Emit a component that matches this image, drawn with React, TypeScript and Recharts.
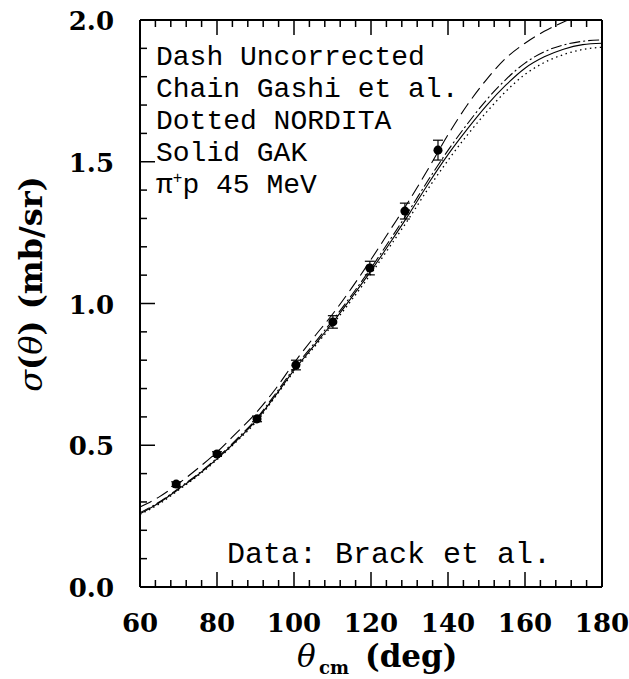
import { ComposedChart, ErrorBar, Line, Scatter, XAxis, YAxis } from 'recharts';

// model curves, every 5 deg
const theta = [60, 65, 70, 75, 80, 85, 90, 95, 100, 105, 110, 115, 120, 125, 130, 135, 140, 145, 150, 155, 160, 165, 170, 175, 180];
const uncorrected = [0.282, 0.318, 0.365, 0.418, 0.476, 0.543, 0.612, 0.695, 0.79, 0.878, 0.962, 1.055, 1.155, 1.26, 1.365, 1.478, 1.595, 1.7, 1.79, 1.865, 1.918, 1.96, 1.993, 2.018, 2.035];
const gashi = [0.262, 0.3, 0.348, 0.398, 0.455, 0.52, 0.59, 0.678, 0.772, 0.855, 0.94, 1.03, 1.125, 1.226, 1.33, 1.438, 1.54, 1.633, 1.718, 1.79, 1.848, 1.888, 1.912, 1.925, 1.93];
const nordita = [0.256, 0.293, 0.342, 0.392, 0.449, 0.512, 0.58, 0.668, 0.76, 0.842, 0.925, 1.013, 1.105, 1.203, 1.303, 1.408, 1.505, 1.594, 1.675, 1.748, 1.808, 1.85, 1.878, 1.896, 1.904];
const gak = [0.258, 0.297, 0.345, 0.395, 0.452, 0.515, 0.585, 0.672, 0.765, 0.848, 0.932, 1.022, 1.115, 1.215, 1.318, 1.425, 1.525, 1.615, 1.698, 1.77, 1.83, 1.87, 1.897, 1.913, 1.918];

// Brack et al. data points
const dataTheta = [69.4, 80.0, 90.4, 100.5, 110.1, 119.7, 128.8, 137.4];
const dataSigma = [0.363, 0.469, 0.593, 0.783, 0.935, 1.125, 1.326, 1.541];
const dataErr = [0.008, 0.008, 0.01, 0.017, 0.022, 0.024, 0.028, 0.035];

const xTicks = [60, 64, 68, 72, 76, 80, 84, 88, 92, 96, 100, 104, 108, 112, 116, 120, 124, 128, 132, 136, 140, 144, 148, 152, 156, 160, 164, 168, 172, 176, 180];
const yTicks = [0, 0.1, 0.2, 0.3, 0.4, 0.5, 0.6, 0.7, 0.8, 0.9, 1.0, 1.1, 1.2, 1.3, 1.4, 1.5, 1.6, 1.7, 1.8, 1.9, 2.0];

const legendLines = ['Dash Uncorrected', 'Chain Gashi et al.', 'Dotted NORDITA', 'Solid GAK'];

const curveData = theta.map((t, i) => ({
  theta: t,
  uncorrected: uncorrected[i],
  gashi: gashi[i],
  nordita: nordita[i],
  gak: gak[i]
}));
const points = dataTheta.map((t, i) => ({ theta: t, sigma: dataSigma[i], err: dataErr[i] }));

const serif = '"DejaVu Serif", serif';
const mono = '"Liberation Mono", monospace';
const frame = { stroke: '#000', strokeWidth: 2 };

const xMajor = (v: number) => v % 20 === 0;
const yMajor = (v: number) => Math.abs(v * 2 - Math.round(v * 2)) < 1e-9;

function BottomTick({ x, y, payload }: any) {
  const major = xMajor(payload.value);
  return (
    <g>
      <line x1={x} y1={y} x2={x} y2={y - (major ? 15 : 7)} stroke="#000" strokeWidth={1.5} />
      {major && (
        <text x={x} y={y + 45} textAnchor="middle" fontFamily={serif} fontWeight="bold" fontSize={26} fill="#000">
          {payload.value}
        </text>
      )}
    </g>
  );
}

function TopTick({ x, y, payload }: any) {
  const major = xMajor(payload.value);
  return <line x1={x} y1={y} x2={x} y2={y + (major ? 15 : 7)} stroke="#000" strokeWidth={1.5} />;
}

function LeftTick({ x, y, payload }: any) {
  const major = yMajor(payload.value);
  return (
    <g>
      <line x1={x} y1={y} x2={x + (major ? 15 : 7)} y2={y} stroke="#000" strokeWidth={1.5} />
      {major && (
        <text x={x - 26} y={y + 10} textAnchor="end" fontFamily={serif} fontWeight="bold" fontSize={26} fill="#000">
          {payload.value.toFixed(1)}
        </text>
      )}
    </g>
  );
}

function RightTick({ x, y, payload }: any) {
  const major = yMajor(payload.value);
  return <line x1={x} y1={y} x2={x - (major ? 15 : 7)} y2={y} stroke="#000" strokeWidth={1.5} />;
}

export default function App() {
  return (
    <div style={{ position: 'absolute', left: 0, top: 0, width: 629, height: 679, background: '#fff' }}>
      <ComposedChart width={629} height={679} data={curveData} margin={{ top: 0, right: 0, bottom: 0, left: 0 }}>
        <XAxis xAxisId="b" dataKey="theta" type="number" domain={[60, 180]} ticks={xTicks} interval={0} height={92}
          axisLine={frame} tickLine={false} tickSize={0} tickMargin={0} tick={<BottomTick />} />
        <XAxis xAxisId="t" dataKey="theta" type="number" orientation="top" domain={[60, 180]} ticks={xTicks} interval={0} height={20}
          axisLine={frame} tickLine={false} tickSize={0} tickMargin={0} tick={<TopTick />} />
        <YAxis yAxisId="l" dataKey="sigma" type="number" domain={[0, 2]} allowDataOverflow ticks={yTicks} interval={0} width={140}
          axisLine={frame} tickLine={false} tickSize={0} tickMargin={0} tick={<LeftTick />} />
        <YAxis yAxisId="r" type="number" orientation="right" domain={[0, 2]} ticks={yTicks} interval={0} width={27}
          axisLine={frame} tickLine={false} tickSize={0} tickMargin={0} tick={<RightTick />} />

        <Line xAxisId="b" yAxisId="l" dataKey="uncorrected" type="monotone" stroke="#000" strokeWidth={1.1} strokeDasharray="13 6" dot={false} isAnimationActive={false} />
        <Line xAxisId="b" yAxisId="l" dataKey="gashi" type="monotone" stroke="#000" strokeWidth={1.1} strokeDasharray="11 3 2 3" dot={false} isAnimationActive={false} />
        <Line xAxisId="b" yAxisId="l" dataKey="nordita" type="monotone" stroke="#000" strokeWidth={1.3} strokeDasharray="1.5 3.5" dot={false} isAnimationActive={false} />
        <Line xAxisId="b" yAxisId="l" dataKey="gak" type="monotone" stroke="#000" strokeWidth={1.1} dot={false} isAnimationActive={false} />

        <Scatter xAxisId="b" yAxisId="l" data={points} dataKey="sigma" fill="#000" isAnimationActive={false}>
          <ErrorBar dataKey="err" direction="y" width={5} stroke="#000" strokeWidth={1.2} isAnimationActive={false} />
        </Scatter>
      </ComposedChart>

      <svg width={629} height={679} style={{ position: 'absolute', left: 0, top: 0, pointerEvents: 'none' }}>
        {legendLines.map((line, i) => (
          <text key={line} x={156} y={65 + i * 32} fontFamily={mono} fontSize={28} fill="#000" xmlSpace="preserve">
            {line}
          </text>
        ))}
        <text x={156} y={193} fontFamily={mono} fontSize={28} fill="#000">
          π<tspan fontSize={16} dy={-10}>+</tspan>
          <tspan dy={10}>p 45 MeV</tspan>
        </text>
        <text x={227} y={563} fontFamily={mono} fontSize={30} fill="#000">
          Data: Brack et al.
        </text>

        <text x={297} y={667} fontFamily={serif} fontSize={31} fill="#000" fontStyle="italic">θ</text>
        <text x={319} y={674} fontFamily={serif} fontWeight="bold" fontSize={18} fill="#000">cm</text>
        <text x={365} y={667} fontFamily={serif} fontWeight="bold" fontSize={31} fill="#000">(deg)</text>

        <text transform="translate(42 284) rotate(-90)" textAnchor="middle" fontFamily={serif} fontWeight="bold" fontSize={32} fill="#000">
          <tspan fontStyle="italic" fontWeight="normal">σ</tspan>(<tspan fontStyle="italic" fontWeight="normal">θ</tspan>) (mb/sr)
        </text>
      </svg>
    </div>
  );
}
